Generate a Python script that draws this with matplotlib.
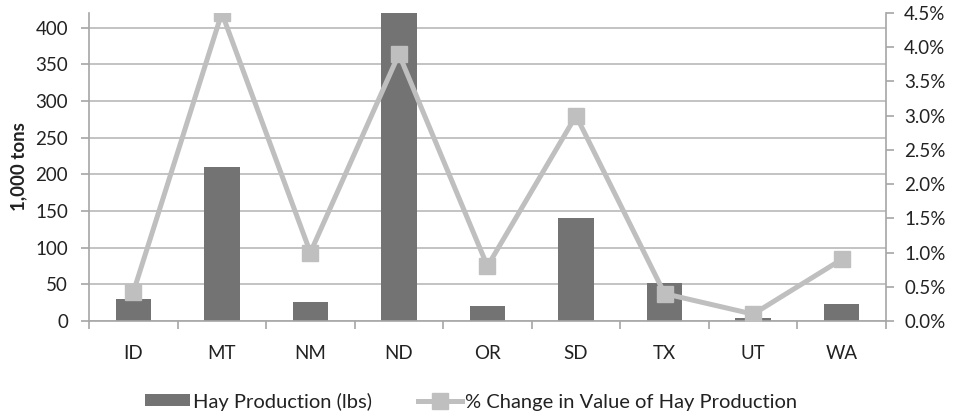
import numpy as np
import matplotlib.pyplot as plt

plt.rcParams['font.family'] = ['Lato', 'DejaVu Sans']

states = ['ID', 'MT', 'NM', 'ND', 'OR', 'SD', 'TX', 'UT', 'WA']
hay_production = [30, 210, 26, 420, 21, 140, 52, 4, 23]          # 1,000 tons
pct_change = [0.42, 4.5, 1.0, 3.9, 0.8, 3.0, 0.4, 0.1, 0.9]      # percent

bar_color = '#737373'
line_color = '#BFBFBF'
axis_color = '#A6A6A6'
text_color = '#222222'

fig = plt.figure(figsize=(9.58, 4.17), dpi=100)
ax = fig.add_axes([0.0929, 0.2302, 0.8319, 0.7386])
x = np.arange(len(states))

ax.set_axisbelow(True)
ax.grid(axis='y', color='#BEBEBE', linewidth=1.3)
bars = ax.bar(x, hay_production, width=0.4, color=bar_color, zorder=2,
              label='Hay Production (lbs)')
ax.set_ylim(0, 420)
ax.set_yticks(range(0, 401, 50))
ax.set_xlim(-0.5, len(states) - 0.5)
ax.set_xticks(x)
ax.set_xticklabels(states)
ax.set_xticks(np.arange(-0.5, len(states)), minor=True)
ax.tick_params(axis='x', which='major', length=0, pad=17, labelsize=13.5, labelcolor=text_color)
ax.tick_params(axis='x', which='minor', length=6, color=axis_color, width=1.2, direction='out')
ax.tick_params(axis='y', length=6, color=axis_color, width=1.2, labelsize=13.5,
               labelcolor=text_color, pad=9)
ax.set_ylabel('1,000 tons', fontsize=13.5, fontweight='bold', labelpad=6, color=text_color)
for side in ['top', 'right']:
    ax.spines[side].set_visible(False)
for side in ['left', 'bottom']:
    ax.spines[side].set_color(axis_color)
    ax.spines[side].set_linewidth(1.2)

# percent change on the secondary axis
ax2 = ax.twinx()
line, = ax2.plot(x, pct_change, color=line_color, linewidth=3.6, marker='s',
                 markersize=11.5, markerfacecolor=line_color, markeredgecolor=line_color,
                 zorder=3, label='% Change in Value of Hay Production')
ax2.set_ylim(0, 4.5)
ax2.set_yticks(np.arange(0, 4.51, 0.5))
ax2.set_yticklabels([f'{v:.1f}%' for v in np.arange(0, 4.51, 0.5)])
ax2.tick_params(axis='y', length=6, color=axis_color, width=1.2, labelsize=13.5,
                labelcolor=text_color, pad=7)
for side in ['top', 'left', 'bottom']:
    ax2.spines[side].set_visible(False)
ax2.spines['right'].set_color(axis_color)
ax2.spines['right'].set_linewidth(1.2)

fig.legend(handles=[bars, line], loc='lower center', bbox_to_anchor=(0.492, -0.028),
           ncol=2, frameon=False, fontsize=14.5, handlelength=2.2, handleheight=0.55,
           columnspacing=2.3, handletextpad=0.15, labelcolor=text_color)

fig.savefig('out.png', dpi=100)
